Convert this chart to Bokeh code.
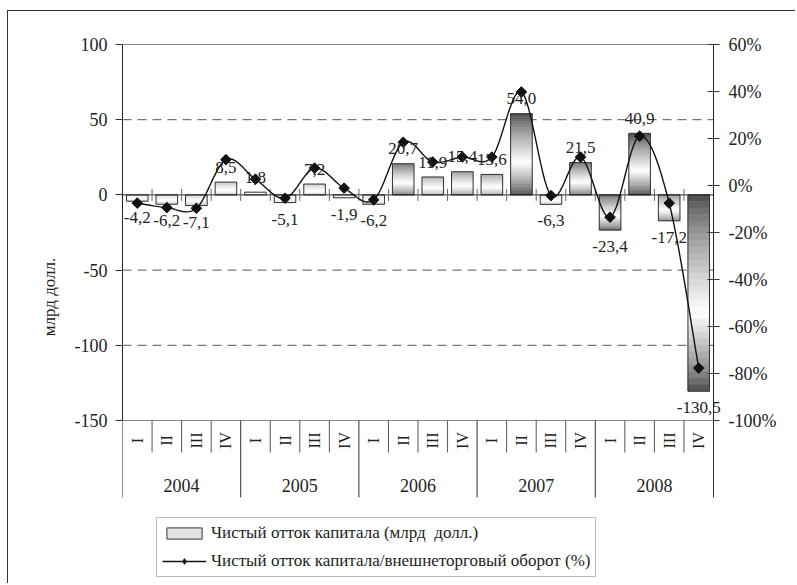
import numpy as np
from bokeh.plotting import figure
from bokeh.models import (Range1d, LinearAxis, FixedTicker, ColumnDataSource,
                          Legend, LegendItem)
from bokeh.core.properties import value
from bokeh.embed import file_html
from bokeh.resources import INLINE

# ---------------- data ----------------
years = ["2004", "2005", "2006", "2007", "2008"]
quarters = ["I", "II", "III", "IV"]
outflow_bn = [-4.2, -6.2, -7.1, 8.5,
              1.8, -5.1, 7.2, -1.9,
              -6.2, 20.7, 11.9, 15.4,
              13.6, 54.0, -6.3, 21.5,
              -23.4, 40.9, -17.2, -130.5]
ratio_pct = [-7.5, -9.4, -9.7, 11.0,
             2.7, -5.4, 7.4, -1.1,
             -6.1, 18.4, 10.0, 12.1,
             12.1, 39.8, -4.3, 12.1,
             -13.5, 21.0, -7.5, -77.7]
left_ticks = [-150, -100, -50, 0, 50, 100]
left_tick_labels = ["-150", "-100", "-50", "0", "50", "100"]
right_ticks = [-100, -80, -60, -40, -20, 0, 20, 40, 60]
right_tick_labels = ["-100%", "-80%", "-60%", "-40%", "-20%", "0%", "20%", "40%", "60%"]
grid_levels = [-100, -50, 50]
series_names = ["Чистый отток капитала (млрд  долл.)",
                "Чистый отток капитала/внешнеторговый оборот (%)"]
y_title = "млрд долл."

# ---------------- layout constants ----------------
FONT = "Liberation Serif"
W, H = 788, 573
B_LEFT, B_RIGHT, B_TOP, B_BOTTOM = 114, 0, 0, 2
TOP_PX = 33                                       # space above the value area
PLOT_PX = 376                                     # value area height (-150..100)
PLOT_W = 591                                      # value area width
BAND_PX = H - B_BOTTOM - B_TOP - TOP_PX - PLOT_PX  # area below the value area
FRAME_W = W - B_LEFT - B_RIGHT
L_MIN, L_MAX = left_ticks[0], left_ticks[-1]
R_MIN, R_MAX = right_ticks[0], right_ticks[-1]
u_per_px = (L_MAX - L_MIN) / PLOT_PX
r_per_px = (R_MAX - R_MIN) / PLOT_PX


def below(px):
    return L_MIN - px * u_per_px


n = len(outflow_bn)
p = figure(width=W, height=H, output_backend="svg", toolbar_location=None,
           x_range=Range1d(0, n * FRAME_W / PLOT_W),
           y_range=Range1d(below(BAND_PX), L_MAX + TOP_PX * u_per_px),
           x_axis_type=None, y_axis_type=None,
           min_border_left=B_LEFT, min_border_right=B_RIGHT,
           min_border_top=B_TOP, min_border_bottom=B_BOTTOM)
p.outline_line_color = None
p.xgrid.visible = False
p.ygrid.visible = False
p.background_fill_color = "white"
p.styles = {"margin-left": "7px", "margin-top": "10px",
            "border-left": "1px solid #333", "border-top": "1px solid #333"}
p.extra_y_ranges = {"pct": Range1d(R_MIN - BAND_PX * r_per_px, R_MAX + TOP_PX * r_per_px)}

# left axis
la = LinearAxis(bounds=(L_MIN, L_MAX), ticker=FixedTicker(ticks=left_ticks),
                major_label_overrides={t: s for t, s in zip(left_ticks, left_tick_labels)},
                axis_label=y_title)
la.major_tick_in = 0
la.major_tick_out = 7
la.major_label_standoff = 8
la.axis_label_standoff = 13
la.minor_tick_line_color = None
la.axis_line_color = "#222"
la.major_tick_line_color = "#333"
la.major_label_text_font = FONT
la.major_label_text_font_size = "18px"
la.major_label_text_color = "#222"
la.axis_label_text_font = FONT
la.axis_label_text_font_size = "17px"
la.axis_label_text_font_style = "normal"
la.axis_label_text_color = "#222"
p.add_layout(la, "left")

# grid lines
p.segment(x0=[0] * len(grid_levels), y0=grid_levels, x1=[n] * len(grid_levels),
          y1=grid_levels, line_color="#555", line_dash="9 6", line_width=1)
p.segment(x0=[0], y0=[L_MAX], x1=[n], y1=[L_MAX], line_color="#888", line_width=1)

# gradient bars
BW = 0.73
NS = 30
sl_l, sl_r, sl_b, sl_t, sl_c = [], [], [], [], []
for i, v in enumerate(outflow_bn):
    end = 70 + 185 * max(0.0, 1 - abs(v) / 28.0)
    for k in range(NS):
        y0 = v * k / NS
        y1 = v * (k + 1) / NS
        frac = (k + 0.5) / NS
        t = 1 - frac if v > 0 else frac   # 0 = top of bar, 1 = bottom
        c = 0.6
        w = 1 - (c - t) / c if t < c else 1 - (t - c) / (1 - c)
        w = max(0.0, w) ** 0.75
        gl = int(round(end + (255 - end) * w))
        sl_l.append(i + 0.5 - BW / 2)
        sl_r.append(i + 0.5 + BW / 2)
        sl_b.append(min(y0, y1))
        sl_t.append(max(y0, y1))
        sl_c.append("#%02x%02x%02x" % (gl, gl, gl))
p.quad(left=sl_l, right=sl_r, bottom=sl_b, top=sl_t, fill_color=sl_c,
       line_color=sl_c, line_width=0.6)

xs = [i + 0.5 for i in range(n)]
bars = ColumnDataSource(dict(x=xs, v=outflow_bn))
p.vbar(x="x", top="v", bottom=0, width=BW, source=bars, fill_color=None,
       line_color="#333", line_width=1)

# zero line with crossing ticks
p.segment(x0=[0], y0=[0], x1=[n], y1=[0], line_color="#222", line_width=1)
p.scatter(x=list(range(1, n)), y=[0] * (n - 1), marker="dash", angle=np.pi / 2,
          size=12, line_color="#666", line_width=1)

# right (percent) axis, drawn at the right edge of the value area
p.segment(x0=[n], y0=[R_MIN], x1=[n], y1=[R_MAX], y_range_name="pct",
          line_color="#222", line_width=1)
p.scatter(x=[n] * len(right_ticks), y=right_ticks, y_range_name="pct", marker="dash",
          size=12, line_color="#333", line_width=1)
p.text(x=[n] * len(right_ticks), y=right_ticks, text=right_tick_labels,
       y_range_name="pct", x_offset=15, text_align="left", text_baseline="middle",
       text_font=value(FONT), text_font_size="18px", text_color="#222")

# bottom category band
p.segment(x0=[0], y0=[L_MIN], x1=[n], y1=[L_MIN], line_color="#888", line_width=1)
q_sep = [i for i in range(1, n) if i % len(quarters) != 0]
p.segment(x0=q_sep, y0=[L_MIN] * len(q_sep), x1=q_sep, y1=[below(32)] * len(q_sep),
          line_color="#555", line_width=1)
y_sep = list(range(0, n + 1, len(quarters)))
p.segment(x0=y_sep, y0=[L_MIN] * len(y_sep), x1=y_sep, y1=[below(77)] * len(y_sep),
          line_color="#333", line_width=1)
p.text(x=xs, y=[below(20)] * n,
       text=[quarters[i % len(quarters)] for i in range(n)], angle=np.pi / 2,
       text_align="center", text_baseline="middle", text_font=value(FONT),
       text_font_size="16px", text_color="#222")
p.text(x=[j * len(quarters) + len(quarters) / 2 for j in range(len(years))],
       y=[below(65)] * len(years), text=years, text_align="center",
       text_baseline="middle", text_font=value(FONT), text_font_size="18px",
       text_color="#222")


# smoothed ratio line (Bezier through the data points)
def smooth(xv, yv, steps=20):
    P = np.column_stack([xv, yv]).astype(float)
    P = np.vstack([P[0], P, P[-1]])
    ox, oy = [], []
    for i in range(1, len(P) - 2):
        p0, p1, p2, p3 = P[i - 1], P[i], P[i + 1], P[i + 2]
        c1 = p1 + (p2 - p0) / 6
        c2 = p2 - (p3 - p1) / 6
        for s in np.linspace(0, 1, steps, endpoint=(i == len(P) - 3)):
            b = ((1 - s) ** 3) * p1 + 3 * ((1 - s) ** 2) * s * c1 + 3 * (1 - s) * s * s * c2 + s ** 3 * p2
            ox.append(b[0])
            oy.append(b[1])
    return ox, oy


cx, cy = smooth(xs, ratio_pct)
p.line(cx, cy, y_range_name="pct", line_color="#111", line_width=1.4)
p.scatter(xs, ratio_pct, y_range_name="pct", marker="square", angle=np.pi / 4,
          size=7.5, fill_color="#111", line_color="#111")

# data labels
fmt = lambda v: ("%.1f" % v).replace(".", ",")
pos = [(x, v) for x, v in zip(xs, outflow_bn) if v >= 0]
neg = [(x, v) for x, v in zip(xs, outflow_bn) if v < 0]
p.text(x=[a for a, _ in pos], y=[b + 15 * u_per_px for _, b in pos],
       text=[fmt(b) for _, b in pos], text_align="center", text_baseline="alphabetic",
       text_font=value(FONT), text_font_size="17px", text_color="#222")
p.text(x=[a for a, _ in neg], y=[b - 11 * u_per_px for _, b in neg],
       text=[fmt(b) for _, b in neg], text_align="center", text_baseline="top",
       text_font=value(FONT), text_font_size="17px", text_color="#222")

# legend (inside the frame's lower band); swatch glyphs have no visible data
nan = [float("nan")]
swatch = p.quad(left=nan, right=nan, bottom=nan, top=nan, fill_color="#e4e4e4",
                line_color="#333", line_width=1)
leg_line = p.line(nan, nan, line_color="#111", line_width=1.4)
leg_dot = p.scatter(nan, nan, marker="diamond", size=13, fill_color="#111",
                    line_color="#111")
legend = Legend(items=[LegendItem(label=series_names[0], renderers=[swatch]),
                       LegendItem(label=series_names[1], renderers=[leg_line, leg_dot])],
                location=(34, 5))
legend.label_text_font = FONT
legend.label_text_font_size = "17px"
legend.label_text_color = "#222"
legend.glyph_width = 44
legend.glyph_height = 14
legend.label_height = 20
legend.label_standoff = 5
legend.spacing = 8
legend.padding = 5
legend.margin = 0
legend.border_line_color = "#777"
legend.border_line_width = 1
legend.background_fill_alpha = 1
p.add_layout(legend)

open("out.html", "w").write(file_html(p, INLINE))
